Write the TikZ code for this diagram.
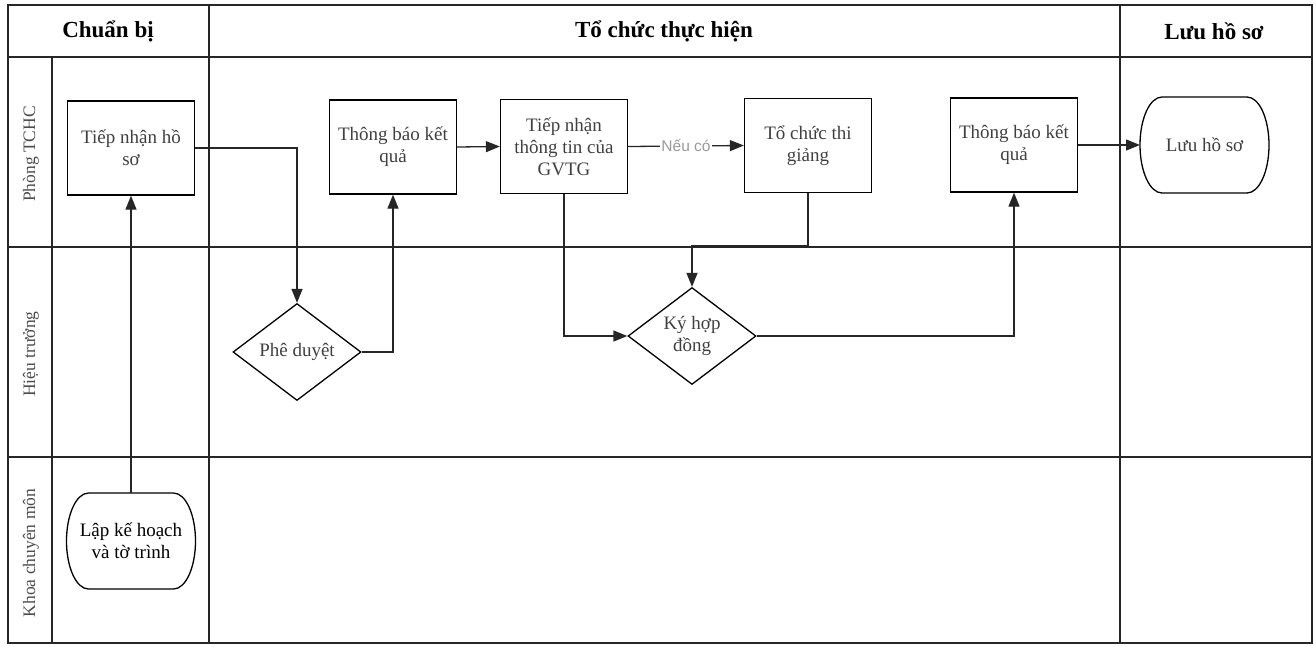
\documentclass[tikz,border=0pt]{standalone}
\usepackage{fontspec}
\setmainfont{Liberation Serif}
\newfontfamily\notefont{Liberation Sans}
\usepackage{tikz}
\usetikzlibrary{arrows.meta}
\usetikzlibrary{shapes.geometric}

\begin{document}
\begin{tikzpicture}[x=1pt,y=-1pt,
            grid/.style={line width=1.4pt,black!85},
            head/.style={font=\fontsize{23}{27}\selectfont\bfseries},
            lane/.style={rotate=90,text=black!70,font=\fontsize{17.5}{20}\selectfont},
            box/.style={draw,line width=1.3pt,minimum width=127pt,minimum height=94pt,inner sep=2pt,align=center,text=black!75,font=\fontsize{19}{22}\selectfont},
            terminal/.style={box,draw=none,outer sep=0pt,minimum width=129pt,minimum height=96pt},
            decision/.style={box,diamond,aspect=1.3,inner sep=0pt,minimum width=128pt,minimum height=97pt},
            flow/.style={line width=1.3pt,black!85,-{Triangle[length=14pt,width=11pt]}}]
            \useasboundingbox (0,0) rectangle (1316,646);

            \draw[grid] (8,5) rectangle (1312,643);
            \draw[grid] (8,57) -- (1312,57);
            \draw[grid] (8,247) -- (1312,247);
            \draw[grid] (8,457) -- (1312,457);
            \draw[grid] (209,5) -- (209,643);
            \draw[grid] (1120,5) -- (1120,643);
            \draw[grid] (52,57) -- (52,643);

            \node[head] (chuanbi) at (108,31) {Chuẩn bị};
            \node[head] (tochuc) at (664,31) {Tổ chức thực hiện};
            \node[head] (luu) at (1214,31) {Lưu hồ sơ};

            \node[lane] (phong) at (31,154) {Phòng TCHC};
            \node[lane] (hieutruong) at (31,354) {Hiệu trưởng};
            \node[lane] (khoa) at (31,553) {Khoa chuyên môn};

            \node[box] (hoso) at (131,148) {Tiếp nhận hồ\\sơ};
            \node[box] (tb1) at (393,147) {Thông báo kết\\quả};
            \node[box] (gvtg) at (564,146.5) {Tiếp nhận\\thông tin của\\GVTG};
            \node[box] (thigiang) at (808,145.5) {Tổ chức thi\\giảng};
            \node[box] (tb2) at (1014,145) {Thông báo kết\\quả};
            \node[terminal] (luuhoso) at (1204.5,145) {Lưu hồ sơ};
            \node[terminal,text=black] (lapkh) at (131,541) {Lập kế hoạch\\và tờ trình};
            \node[decision] (pheduyet) at (297,352) {Phê duyệt};
            \node[decision] (kyhd) at (692,336) {Ký hợp\\đồng};

            \foreach \t in {luuhoso,lapkh}
                \draw[line width=1.3pt] ([xshift=22pt]\t.north west) -- ([xshift=-22pt]\t.north east)
                    arc[start angle=90,end angle=-90,x radius=22pt,y radius=48pt]
                    -- ([xshift=22pt]\t.south west)
                    arc[start angle=270,end angle=90,x radius=22pt,y radius=48pt] -- cycle;

            \draw[flow] (lapkh.north) -- (hoso.south);
            \draw[flow] (hoso.east) -| (pheduyet.north);
            \draw[flow] (pheduyet.east) -| (tb1.south);
            \draw[flow] (tb1.east) -- (gvtg.west);
            \draw[flow] (gvtg.east) -- node[fill=white,inner sep=1pt,text=black!40,font=\notefont\fontsize{15.5}{18}\selectfont] {Nếu có} (thigiang.west);
            \draw[flow] (gvtg.south) |- (kyhd.west);
            \draw[flow] (thigiang.south) -- ++(0,52) -| (kyhd.north);
            \draw[flow] (kyhd.east) -| (tb2.south);
            \draw[flow] (tb2.east) -- (luuhoso.west);
        \end{tikzpicture}
\end{document}
